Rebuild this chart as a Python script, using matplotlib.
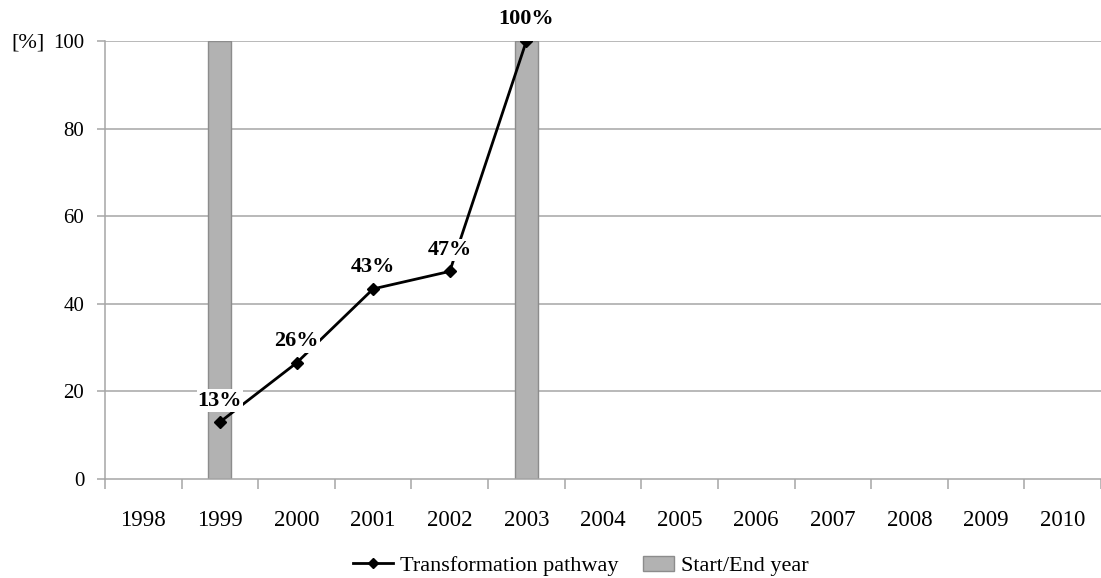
import matplotlib
matplotlib.use("Agg")
import matplotlib.pyplot as plt
from matplotlib.patches import Patch, Rectangle
from matplotlib.lines import Line2D
from matplotlib.legend_handler import HandlerPatch

years = ["1998", "1999", "2000", "2001", "2002", "2003", "2004", "2005",
         "2006", "2007", "2008", "2009", "2010"]
path_years = ["1999", "2000", "2001", "2002", "2003"]
path_values = [13.0, 26.5, 43.4, 47.4, 100.0]
path_labels = ["13%", "26%", "43%", "47%", "100%"]
bar_years = ["1999", "2003"]
bar_values = [100, 100]

serif = ["Liberation Serif", "DejaVu Serif"]
plt.rcParams['font.family'] = serif

fig = plt.figure(figsize=(11.01, 5.78), dpi=100)
ax = fig.add_axes([105/1101, 1-479/578, (1101-105)/1101, (479-41)/578])

xi = {y: i for i, y in enumerate(years)}
grid_c = "#a6a6a6"

ax.set_xlim(-0.5, len(years) - 0.5)
ax.set_ylim(0, 100)
ax.set_yticks([0, 20, 40, 60, 80, 100])
for v in [20, 40, 60, 80, 100]:
    ax.axhline(v, color=grid_c, lw=1.1, zorder=0)

ax.bar([xi[y] for y in bar_years], bar_values, width=0.3,
       color="#b2b2b2", edgecolor="#8c8c8c", linewidth=1.0, zorder=1)

px = [xi[y] for y in path_years]
ax.plot(px, path_values, color="black", lw=2.0, marker="D", markersize=6, zorder=3)
for x, v, t in zip(px, path_values, path_labels):
    ax.annotate(t, (x, v), xytext=(0, 15.5), textcoords="offset points",
                ha="center", va="center", fontsize=16, fontweight="bold",
                bbox=dict(boxstyle="square,pad=0.05", fc="white", ec="none"),
                zorder=4)

ax.set_xticks(range(len(years)))
ax.set_xticklabels(years, fontsize=16.5)
ax.set_xticks([i - 0.5 for i in range(len(years) + 1)], minor=True)
ax.tick_params(axis="x", which="major", length=0, pad=22)
ax.tick_params(axis="x", which="minor", length=7, color=grid_c, width=1.1)
ax.tick_params(axis="y", length=6, color=grid_c, width=1.1, labelsize=15, pad=9)

for s in ["top", "right"]:
    ax.spines[s].set_visible(False)
for s in ["left", "bottom"]:
    ax.spines[s].set_color(grid_c)
    ax.spines[s].set_linewidth(1.1)

fig.text(11/1101, 1-43/578, "[%]", fontsize=16, ha="left", va="center")


def small_patch(legend, orig_handle, xdescent, ydescent, width, height, fontsize):
    pw = 22.5
    ph = 10.5
    return Rectangle((-xdescent + width - pw, -ydescent + (height - ph) / 2), pw, ph)


handles = [Line2D([0], [0], color="black", lw=2, marker="D", markersize=5.5),
           Patch(facecolor="#b2b2b2", edgecolor="#8c8c8c")]
fig.legend(handles, ["Transformation pathway", "Start/End year"],
           loc="center", bbox_to_anchor=(581/1101, 1-565/578), ncol=2,
           frameon=False, fontsize=16, handlelength=1.8, columnspacing=0.7,
           handletextpad=0.3, handleheight=1.0,
           handler_map={Patch: HandlerPatch(patch_func=small_patch)})

fig.savefig("out.png", dpi=100)
